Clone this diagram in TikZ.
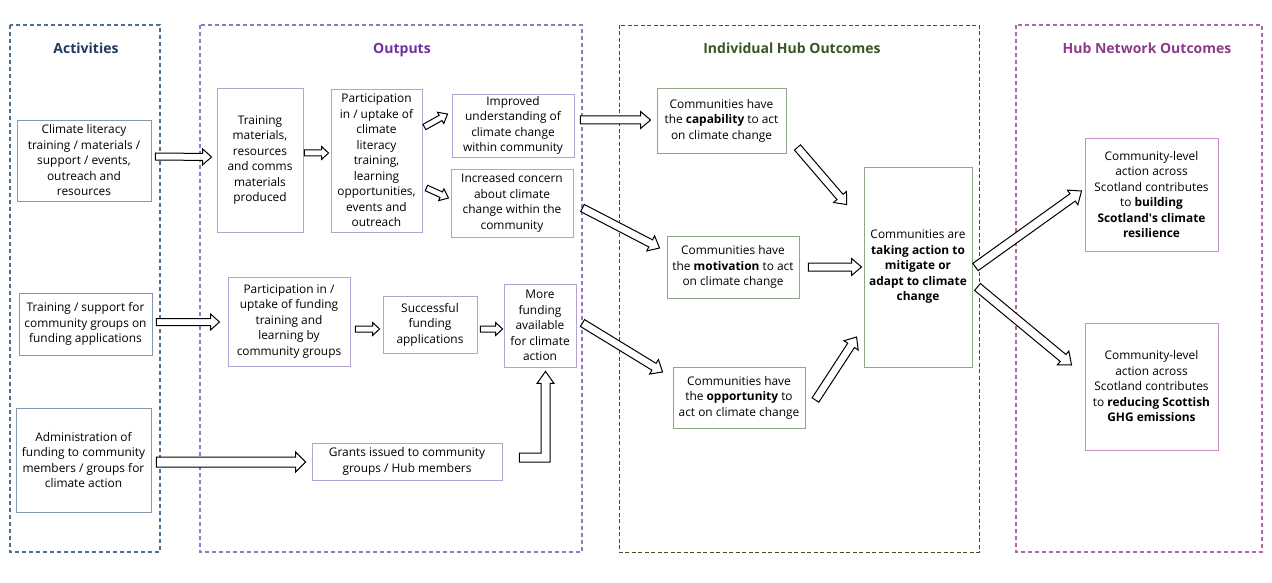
\documentclass[tikz,border=0pt]{standalone}
\usepackage{fontspec}
\setmainfont{Open Sans}
\usepackage{xcolor}
\usepackage{tikz}
\usetikzlibrary{calc, arrows.meta}

\definecolor{actblue}{HTML}{1F3864}
\definecolor{actline}{HTML}{4F6E8E}
\definecolor{actbox}{HTML}{8497B0}
\definecolor{outpurple}{HTML}{7030A0}
\definecolor{outline}{HTML}{9B72CF}
\definecolor{outbox}{HTML}{B4A2D4}
\definecolor{indgreen}{HTML}{375623}
\definecolor{indbox}{HTML}{8FA68A}
\definecolor{netplum}{HTML}{8E3A8A}
\definecolor{netline}{HTML}{B064AA}
\definecolor{netbox}{HTML}{C88FC6}

% start, end, half shaft, half head, head length
\newcommand{\fatarrow}[5]{%
  \coordinate (ba-s) at #1;
  \coordinate (ba-e) at #2;
  \coordinate (ba-h) at ($(ba-e)!#5!(ba-s)$);
  \draw[fat] ($(ba-s)!#3!90:(ba-e)$) -- ($(ba-h)!#3!-90:(ba-s)$)
    -- ($(ba-h)!#4!-90:(ba-s)$) -- (ba-e) -- ($(ba-h)!#4!90:(ba-s)$)
    -- ($(ba-h)!#3!90:(ba-s)$) -- ($(ba-s)!#3!-90:(ba-e)$) -- cycle;
}

\begin{document}
\begin{tikzpicture}[
    x=1pt, y=-1pt,
    box/.style={rectangle, draw, fill=white, line width=0.9pt, align=center,
                inner sep=2pt, font=\fontsize{11.9}{15.5}\selectfont},
    actb/.style={box, draw=actbox},
    outb/.style={box, draw=outbox},
    indb/.style={box, draw=indbox},
    netb/.style={box, draw=netbox},
    ttl/.style={anchor=base, font=\fontsize{14}{17}\selectfont\bfseries},
    frame/.style={line width=1.1pt, dash pattern=on 4pt off 3pt},
    fat/.style={draw=black, fill=white, line width=1pt, line join=miter}
]
    \useasboundingbox (0,0) rectangle (1272,583);

    \draw[frame, draw=actline] (10,25) rectangle (160,552);
    \draw[frame, draw=outline] (200,25) rectangle (582,552);
    \draw[frame, draw=indgreen, line width=0.8pt, dash pattern=on 4pt off 2.5pt] (619,25) rectangle (979,552);
    \draw[frame, draw=netline] (1016,25) rectangle (1262,552);

    \node[ttl, text=actblue] (tact) at (86,54) {Activities};
    \node[ttl, text=outpurple] (tout) at (402,54) {Outputs};
    \node[ttl, text=indgreen] (tind) at (792,54) {Individual Hub Outcomes};
    \node[ttl, text=netplum] (tnet) at (1147,54) {Hub Network Outcomes};

    \node[actb, minimum width=134, minimum height=81] (lit) at (84,160.5)
        {Climate literacy\\training / materials /\\support / events,\\outreach and\\resources};
    \node[actb, minimum width=133, minimum height=62] (fundsup) at (85.5,324)
        {Training / support for\\community groups on\\funding applications};
    \node[actb, minimum width=135, minimum height=104] (admin) at (83.5,460)
        {Administration of\\funding to community\\members / groups for\\climate action};

    \node[outb, minimum width=86, minimum height=144] (mats) at (260,160)
        {Training\\materials,\\resources\\and comms\\materials\\produced};
    \node[outb, minimum width=91, minimum height=143] (part) at (376.5,160.5)
        {Participation\\in / uptake of\\climate\\literacy\\training,\\learning\\opportunities,\\events and\\outreach};
    \node[outb, minimum width=122, minimum height=63] (underst) at (513,125.5)
        {Improved\\understanding of\\climate change\\within community};
    \node[outb, minimum width=122, minimum height=68] (concern) at (512,203)
        {Increased concern\\about climate\\change within the\\community};
    \node[outb, minimum width=122, minimum height=89] (fundpart) at (289,321.5)
        {Participation in /\\uptake of funding\\training and\\learning by\\community groups};
    \node[outb, minimum width=94, minimum height=57] (success) at (430,324.5)
        {Successful\\funding\\applications};
    \node[outb, minimum width=72, minimum height=83] (morefund) at (540,325.5)
        {More\\funding\\available\\for climate\\action};
    \node[outb, minimum width=190, minimum height=37] (grants) at (407,461.5)
        {Grants issued to community\\groups / Hub members};

    \node[indb, minimum width=129, minimum height=65] (capab) at (721.5,120.5)
        {Communities have\\the \textbf{capability} to act\\on climate change};
    \node[indb, minimum width=132, minimum height=62] (motiv) at (733,267)
        {Communities have\\the \textbf{motivation} to act\\on climate change};
    \node[indb, minimum width=132, minimum height=61] (oppor) at (739,397.5)
        {Communities have\\the \textbf{opportunity} to\\act on climate change};
    \node[indb, minimum width=108, minimum height=200] (action) at (918,267)
        {Communities are\\\textbf{taking action to}\\\textbf{mitigate or}\\\textbf{adapt to climate}\\\textbf{change}};

    \node[netb, minimum width=133, minimum height=113] (resil) at (1151.5,194.5)
        {Community-level\\action across\\Scotland contributes\\to \textbf{building}\\\textbf{Scotland\textquotesingle s climate}\\\textbf{resilience}};
    \node[netb, minimum width=133, minimum height=127] (ghg) at (1151.5,386.5)
        {Community-level\\action across\\Scotland contributes\\to \textbf{reducing Scottish}\\\textbf{GHG emissions}};

    \fatarrow{($(lit.east)+(4,-4)$)}{($(mats.west)+(-5,-3)$)}{3.5pt}{8pt}{9pt}
    \fatarrow{($(mats.east)+(1,-7)$)}{($(part.west)+(-2,-7.5)$)}{3pt}{6.5pt}{7pt}
    \fatarrow{($(part.east)+(2,-33.5)$)}{($(underst.west)+(-4,-11.5)$)}{3pt}{6.5pt}{8pt}
    \fatarrow{($(part.east)+(4,27.5)$)}{($(concern.west)+(-2,-5)$)}{3pt}{6.5pt}{8pt}
    \fatarrow{($(underst.east)+(6,-5.5)$)}{($(capab.west)+(-6,-0.5)$)}{4pt}{8.5pt}{10pt}
    \fatarrow{($(concern.east)+(9,5)$)}{($(motiv.west)+(-7,-19)$)}{4pt}{8.5pt}{10pt}
    \fatarrow{($(morefund.east)+(6,-2.5)$)}{($(oppor.west)+(-10,-25.5)$)}{4pt}{8.5pt}{10pt}
    \fatarrow{($(capab.south east)+(11,-6)$)}{($(action.north west)+(-17,38)$)}{4pt}{8.5pt}{10pt}
    \fatarrow{($(motiv.east)+(9,0)$)}{($(action.west)+(-2,0)$)}{4pt}{8.5pt}{10pt}
    \fatarrow{($(oppor.east)+(10,2.5)$)}{($(action.west)+(-7,70)$)}{4pt}{8.5pt}{10pt}
    \fatarrow{($(action.east)+(3,0)$)}{($(resil.west)+(-3,-3.5)$)}{4.5pt}{9pt}{11pt}
    \fatarrow{($(action.east)+(5,20)$)}{($(ghg.west)+(-13,-21.5)$)}{4.5pt}{9pt}{11pt}
    \fatarrow{($(fundsup.east)+(4,-2)$)}{($(fundpart.west)+(-8,0.5)$)}{3.5pt}{8pt}{9pt}
    \fatarrow{($(fundpart.east)+(5,7.5)$)}{($(success.west)+(-3,4.5)$)}{3pt}{6.5pt}{7pt}
    \fatarrow{($(success.east)+(3,4.5)$)}{($(morefund.west)+(-1,3.5)$)}{3pt}{6.5pt}{7pt}
    \fatarrow{($(admin.east)+(5,2)$)}{($(grants.west)+(-6,0.5)$)}{5pt}{10pt}{10pt}

    \coordinate (gstart) at ($(grants.east)+(17,-4)$);
    \coordinate (gtip) at ($(morefund.south)+(5.5,4)$);
    \coordinate (gcorner) at (gtip |- gstart);
    \draw[fat] ($(gstart)+(0,-4.5)$) -- ($(gcorner)+(-4.5,-4.5)$) -- ($(gtip)+(-4.5,12)$)
        -- ($(gtip)+(-8.5,12)$) -- (gtip) -- ($(gtip)+(8.5,12)$) -- ($(gtip)+(4.5,12)$)
        -- ($(gcorner)+(4.5,4.5)$) -- ($(gstart)+(0,4.5)$) -- cycle;
\end{tikzpicture}
\end{document}
